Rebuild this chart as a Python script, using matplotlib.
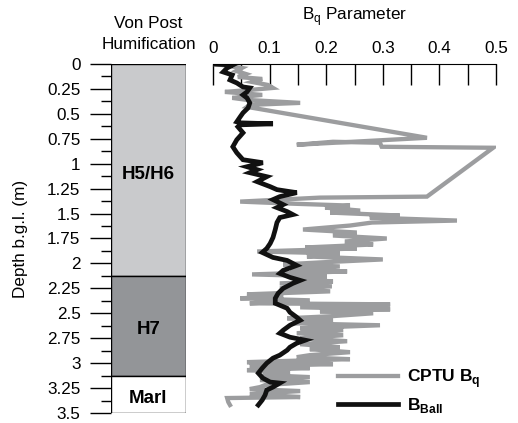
import matplotlib
matplotlib.use("Agg")
import matplotlib.pyplot as plt

plt.rcParams["font.family"] = ["Liberation Sans", "DejaVu Sans"]
plt.rcParams["mathtext.fontset"] = "custom"
plt.rcParams["mathtext.rm"] = "Liberation Sans"
plt.rcParams["mathtext.bf"] = "Liberation Sans:bold"
plt.rcParams["font.size"] = 12.3

# Von Post humification layers
layer_tops = [0.0, 2.13, 3.13]
layer_bottoms = [2.13, 3.13, 3.5]
layer_labels = ["H5/H6", "H7", "Marl"]
layer_colors = ["#c9cacc", "#939598", "#ffffff"]
layer_label_depths = [1.11, 2.66, 3.35]

# CPTU pore-pressure parameter Bq with depth
cptu_depth = [0.00, 0.01, 0.04, 0.07, 0.10, 0.13, 0.15, 0.18, 0.21, 0.24, 0.26, 0.28,
              0.31, 0.34, 0.36, 0.39, 0.41, 0.43, 0.74, 0.81, 0.78, 0.79, 0.83, 0.84,
              1.33, 1.34, 1.38, 1.40, 1.42, 1.44, 1.47, 1.49, 1.52, 1.54, 1.57, 1.59,
              1.62, 1.66, 1.69, 1.72, 1.75, 1.78, 1.81, 1.84, 1.85, 1.88, 1.90, 1.93,
              1.96, 1.99, 2.01, 2.03, 2.06, 2.08, 2.11, 2.13, 2.16, 2.18, 2.20, 2.23,
              2.25, 2.28, 2.31, 2.33, 2.35, 2.37, 2.40, 2.41, 2.44, 2.46, 2.48, 2.50,
              2.53, 2.55, 2.57, 2.60, 2.62, 2.65, 2.67, 2.70, 2.72, 2.75, 2.78, 2.81,
              2.84, 2.86, 2.89, 2.92, 2.94, 2.96, 2.98, 2.99, 3.01, 3.03, 3.05, 3.07,
              3.09, 3.12, 3.14, 3.17, 3.19, 3.22, 3.24, 3.26, 3.28, 3.31, 3.34, 3.35,
              3.39, 3.42]
cptu_bq = [0.000, 0.016, 0.051, 0.041, 0.058, 0.044, 0.087, 0.069, 0.097, 0.106, 0.065, 0.021,
           0.087, 0.034, 0.060, 0.154, 0.065, 0.060, 0.378, 0.148, 0.212, 0.295, 0.298, 0.495,
           0.378, 0.189, 0.048, 0.136, 0.242, 0.198, 0.260, 0.207, 0.330, 0.277, 0.431, 0.281,
           0.242, 0.159, 0.254, 0.212, 0.307, 0.233, 0.283, 0.163, 0.254, 0.078, 0.224, 0.166,
           0.300, 0.189, 0.124, 0.224, 0.136, 0.237, 0.069, 0.201, 0.141, 0.212, 0.118, 0.210,
           0.118, 0.207, 0.060, 0.124, 0.048, 0.171, 0.065, 0.313, 0.154, 0.313, 0.189, 0.283,
           0.207, 0.131, 0.212, 0.141, 0.295, 0.154, 0.230, 0.148, 0.230, 0.154, 0.237, 0.154,
           0.224, 0.171, 0.242, 0.171, 0.148, 0.242, 0.118, 0.060, 0.212, 0.065, 0.171, 0.060,
           0.136, 0.088, 0.171, 0.083, 0.171, 0.092, 0.083, 0.065, 0.154, 0.065, 0.154, 0.025,
           0.027, 0.030]

# Ball penetrometer parameter B_Ball with depth
ball_depth = [0.00, 0.01, 0.04, 0.08, 0.11, 0.16, 0.19, 0.23, 0.24, 0.28, 0.31, 0.34,
              0.39, 0.44, 0.49, 0.53, 0.58, 0.59, 0.60, 0.61, 0.63, 0.69, 0.76, 0.83,
              0.89, 0.96, 0.99, 1.03, 1.06, 1.09, 1.13, 1.18, 1.23, 1.26, 1.28, 1.29,
              1.33, 1.36, 1.41, 1.44, 1.48, 1.51, 1.54, 1.59, 1.66, 1.74, 1.80, 1.85,
              1.89, 1.94, 1.97, 2.02, 2.07, 2.10, 2.14, 2.17, 2.20, 2.25, 2.30, 2.35,
              2.40, 2.45, 2.49, 2.54, 2.57, 2.62, 2.67, 2.70, 2.74, 2.77, 2.80, 2.84,
              2.87, 2.92, 2.95, 3.00, 3.05, 3.10, 3.15, 3.19, 3.20, 3.24, 3.27, 3.32,
              3.37, 3.42]
ball_b = [0.000, 0.035, 0.025, 0.018, 0.034, 0.030, 0.042, 0.053, 0.065, 0.060, 0.053, 0.060,
          0.065, 0.062, 0.053, 0.048, 0.042, 0.048, 0.106, 0.048, 0.044, 0.053, 0.042, 0.035,
          0.042, 0.053, 0.088, 0.060, 0.078, 0.065, 0.095, 0.078, 0.101, 0.113, 0.136, 0.148,
          0.118, 0.106, 0.124, 0.113, 0.131, 0.141, 0.118, 0.113, 0.110, 0.106, 0.101, 0.095,
          0.087, 0.106, 0.131, 0.148, 0.124, 0.118, 0.136, 0.154, 0.141, 0.124, 0.115, 0.110,
          0.110, 0.131, 0.136, 0.148, 0.154, 0.136, 0.124, 0.118, 0.136, 0.163, 0.148, 0.136,
          0.131, 0.118, 0.106, 0.095, 0.087, 0.080, 0.088, 0.101, 0.118, 0.106, 0.095, 0.092,
          0.087, 0.080]

depth_ticks = [0, 0.25, 0.5, 0.75, 1, 1.25, 1.5, 1.75, 2, 2.25, 2.5, 2.75, 3, 3.25, 3.5]
depth_tick_labels = ["0", "0.25", "0.5", "0.75", "1", "1.25", "1.5", "1.75", "2",
                     "2.25", "2.5", "2.75", "3", "3.25", "3.5"]
bq_ticks = [0, 0.1, 0.2, 0.3, 0.4, 0.5]
bq_tick_labels = ["0", "0.1", "0.2", "0.3", "0.4", "0.5"]

W, H = 518, 423
fig = plt.figure(figsize=(W / 100, H / 100), dpi=100)

y_top, y_bot = 64, 413
ax_l = fig.add_axes([111 / W, 1 - y_bot / H, 75 / W, (y_bot - y_top) / H])
ax_r = fig.add_axes([213 / W, 1 - y_bot / H, 283 / W, (y_bot - y_top) / H])

# ---- humification column ----
for top, bot, lab, col, ld in zip(layer_tops, layer_bottoms, layer_labels,
                                  layer_colors, layer_label_depths):
    ax_l.bar(0.5, bot - top, bottom=top, width=1.0, color=col,
             edgecolor="black", linewidth=1.0)
    ax_l.text(0.5, ld, lab, ha="center", va="center", fontsize=13.5,
              fontweight="bold")
ax_l.set_xlim(0, 1)
ax_l.set_ylim(3.5, 0)
for s in ax_l.spines.values():
    s.set_visible(False)
ax_l.set_xticks([])
ax_l.set_yticks(depth_ticks)
ax_l.set_yticklabels(depth_tick_labels)
ax_l.set_yticks([d + 0.125 for d in depth_ticks[:-1]], minor=True)
ax_l.tick_params(axis="y", which="major", direction="out", length=15,
                 width=1.0, pad=7)
ax_l.tick_params(axis="y", which="minor", direction="out", length=7.5, width=1.0)
ax_l.set_title("Von Post\nHumification", fontsize=12.3, pad=11, linespacing=1.45)
ax_l.set_ylabel("Depth b.g.l. (m)", fontsize=12.3, labelpad=14)

# ---- Bq profiles ----
ax_r.plot(cptu_bq, cptu_depth, color="#9c9d9f", linewidth=3.1,
          solid_joinstyle="miter", label="CPTU B$_\\mathbf{q}$")
ax_r.plot(ball_b, ball_depth, color="#111111", linewidth=3.4,
          solid_joinstyle="miter", label="B$_\\mathbf{Ball}$")
ax_r.set_xlim(0, 0.5)
ax_r.set_ylim(3.5, 0)
ax_r.xaxis.tick_top()
ax_r.xaxis.set_label_position("top")
ax_r.set_xticks(bq_ticks)
ax_r.set_xticklabels(bq_tick_labels)
ax_r.set_xticks([0.05, 0.15, 0.25, 0.35, 0.45], minor=True)
ax_r.tick_params(axis="x", which="both", direction="in", length=15, width=1.0,
                 pad=6)
ax_r.set_yticks([])
for side in ["left", "right", "bottom"]:
    ax_r.spines[side].set_visible(False)
ax_r.set_xlabel("B$_\\mathrm{q}$ Parameter", fontsize=12.3, labelpad=15)

leg = ax_r.legend(loc="lower left", bbox_to_anchor=(0.44, -0.006), frameon=False,
                  borderpad=0.0, borderaxespad=0.0,
                  handlelength=3.5, handletextpad=0.5, labelspacing=0.35,
                  prop={"weight": "bold", "size": 12.5})

fig.savefig("out.png", dpi=100)
